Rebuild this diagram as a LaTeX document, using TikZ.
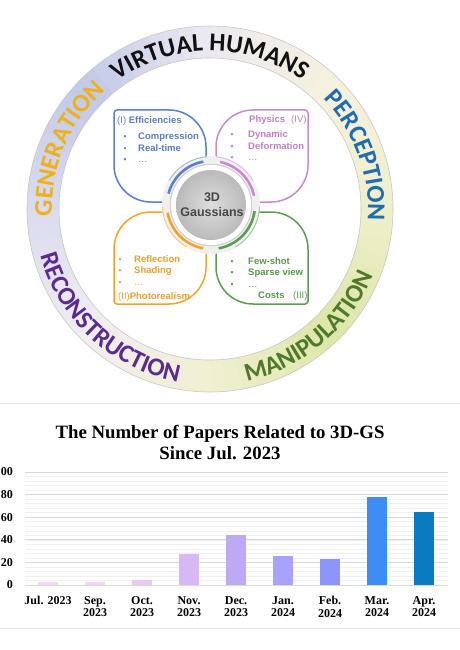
\documentclass[tikz,border=0pt]{standalone}
\usepackage{fontspec}
\setmainfont{Liberation Serif}
\newfontfamily\arialf{Liberation Sans}
\newfontfamily\ringf{Carlito}
\usetikzlibrary{decorations.text}
% ring colours
\definecolor{rA}{HTML}{EFEFCB}
\definecolor{rB}{HTML}{F6F1DE}
\definecolor{rC}{HTML}{ECEAF1}
\definecolor{rD}{HTML}{C2C8E7}
\definecolor{rE}{HTML}{D9DBEF}
\definecolor{rF}{HTML}{F2EDF2}
\definecolor{rG}{HTML}{F1F0D2}
\definecolor{rH}{HTML}{DCE6A8}
% word colours
\definecolor{wGen}{HTML}{EDB21A}
\definecolor{wVir}{HTML}{111111}
\definecolor{wPer}{HTML}{1F6CB0}
\definecolor{wMan}{HTML}{4E7A2A}
\definecolor{wRec}{HTML}{5A2C8E}
% petal colours
\definecolor{pI}{HTML}{5B7FC9}
\definecolor{pIV}{HTML}{C68CCB}
\definecolor{pII}{HTML}{F2A52C}
\definecolor{pIII}{HTML}{5E9C55}
\definecolor{pIt}{HTML}{5C7DC0}
\definecolor{pIVt}{HTML}{C47EC4}
\definecolor{pIIt}{HTML}{EFA02A}
\definecolor{pIIIt}{HTML}{5A9A4C}
% bar colours
\definecolor{b1}{HTML}{F3D9EE}
\definecolor{b2}{HTML}{F1D5F0}
\definecolor{b3}{HTML}{E7C9F3}
\definecolor{b4}{HTML}{D6B8F6}
\definecolor{b5}{HTML}{BEA9F6}
\definecolor{b6}{HTML}{A8A2F8}
\definecolor{b7}{HTML}{8E95FA}
\definecolor{b8}{HTML}{3E8DF5}
\definecolor{b9}{HTML}{0B7BC1}
\newcommand\RingWord[5]{%
  \path[decorate,decoration={text along path,text align=center,
    text={|\ringf\bfseries\fontsize{25.5}{26}\selectfont\color{#1}|#2}}]
    (#3:#5) arc[start angle=#3,end angle=#4,radius=#5];}
\begin{document}
\begin{tikzpicture}[x=1pt,y=1pt,
  ringline/.style={draw=black!22,line width=0.6pt},
  petal/.style={line width=1.5pt,line cap=round,line join=round},
  ptxt/.style={font=\arialf\fontsize{9.5}{11}\selectfont,anchor=base west,inner sep=0pt},
  pbold/.style={ptxt,font=\arialf\bfseries\fontsize{9.5}{11}\selectfont},
  bul/.style={font=\arialf\fontsize{8.5}{8.5}\selectfont,anchor=base,inner sep=0pt},
  ctxt/.style={font=\arialf\bfseries\fontsize{12.5}{14}\selectfont,text=black!72,anchor=base,inner sep=0pt},
  ylab/.style={font=\bfseries\fontsize{12}{12}\selectfont,anchor=east,inner sep=0pt},
  xlab/.style={font=\bfseries\fontsize{12}{12.5}\selectfont,anchor=north,inner sep=0pt,align=center},
  ttl/.style={font=\bfseries\fontsize{18.8}{20}\selectfont,anchor=base,inner sep=0pt},
  major/.style={draw=black!15,line width=0.8pt},
  minor/.style={draw=black!6,line width=0.5pt},
  sep/.style={draw=black!12,line width=0.9pt}]
\useasboundingbox (0,0) rectangle (460,-650);
\fill[white] (0,0) rectangle (460,-650);

% ---------------- ring ----------------
\begin{scope}[shift={(210,-209)}]
  \foreach \s/\ca/\cb in {0/rA/rB,45/rB/rC,90/rC/rD,135/rD/rE,180/rE/rF,225/rF/rG,270/rG/rH,315/rH/rA}{
    \foreach \k in {0,...,8}{
      \pgfmathsetmacro\aa{\s+\k*5}
      \pgfmathsetmacro\ab{\aa+5.6}
      \pgfmathtruncatemacro\p{100-(\k+0.5)*100/9}
      \fill[\ca!\p!\cb] (\aa:183) arc[start angle=\aa,end angle=\ab,radius=183]
        -- (\ab:151) arc[start angle=\ab,end angle=\aa,radius=151] -- cycle;
    }
  }
  \draw[ringline] (0,0) circle (183);
  \draw[ringline] (0,0) circle (151);
  \RingWord{wVir}{VIRTUAL HUMANS}{140}{40}{158}
  \RingWord{wPer}{PERCEPTION}{75}{-35}{158}
  \RingWord{wGen}{GENERATION}{212}{102}{158}
  \RingWord{wMan}{MANIPULATION}{-105}{5}{176}
  \RingWord{wRec}{RECONSTRUCTION}{170}{285}{176}
\end{scope}

% ---------------- petals ----------------
\foreach \sx/\sy/\c in {-1/1/pI,1/1/pIV,-1/-1/pII,1/-1/pIII}{
  \begin{scope}[shift={(211,-207)},xscale=\sx,yscale=\sy]
    \draw[petal,\c] (5,45) -- (5,60) arc[start angle=180,end angle=90,radius=37]
      -- (94,97) arc[start angle=90,end angle=0,radius=3]
      -- (97,42) arc[start angle=0,end angle=-90,radius=37] -- (45,5);
  \end{scope}
}

% ---------------- centre ----------------
\begin{scope}[shift={(211,-205)}]
  \draw[line width=7pt,black!6] (0,0) circle (45.5);
  \draw[line width=2.6pt,pI] (100:44) arc[start angle=100,end angle=165,radius=44];
  \draw[line width=1pt,pI!55] (95:48.5) arc[start angle=95,end angle=150,radius=48.5];
  \draw[line width=2.6pt,pIV] (78:44) arc[start angle=78,end angle=12,radius=44];
  \draw[line width=1pt,pIV!55] (84:48.5) arc[start angle=84,end angle=30,radius=48.5];
  \draw[line width=2.6pt,pIII] (-8:44) arc[start angle=-8,end angle=-80,radius=44];
  \draw[line width=1pt,pIII!55] (-2:48.5) arc[start angle=-2,end angle=-60,radius=48.5];
  \draw[line width=2.6pt,pII] (190:44) arc[start angle=190,end angle=260,radius=44];
  \draw[line width=1pt,pII!55] (182:48.5) arc[start angle=182,end angle=240,radius=48.5];
  \fill[black!18] (0,0) circle (41.5);
  \fill[white] (0,0) circle (40);
  \shade[inner color=black!13,outer color=black!27] (0,0) circle (35);
\end{scope}
\node[ctxt] (c3d) at (212,-201.5) {3D};
\node[ctxt] (cgs) at (212,-216.5) {Gaussians};

% ---------------- petal texts ----------------
% I
\node[ptxt,text=pIt] (h1) at (117,-123.5) {(I) \textbf{Efficiencies}};
\node[bul,text=pIt] (u11) at (125,-139.5) {•};
\node[bul,text=pIt] (u12) at (125,-151.5) {•};
\node[bul,text=pIt] (u13) at (125,-162.5) {•};
\node[pbold,text=pIt] (i11) at (138,-139.5) {Compression};
\node[pbold,text=pIt] (i12) at (138,-151.5) {Real-time};
\node[ptxt,text=pIt] (i13) at (138,-162.5) {…};
% IV
\node[pbold,text=pIVt] (h4) at (249,-122.5) {Physics};
\node[ptxt,text=pIVt] (h4b) at (291,-122.5) {(IV)};
\node[bul,text=pIVt] (u41) at (232,-137.5) {•};
\node[bul,text=pIVt] (u42) at (232,-149) {•};
\node[bul,text=pIVt] (u43) at (232,-160.5) {•};
\node[pbold,text=pIVt] (i41) at (248,-137.5) {Dynamic};
\node[pbold,text=pIVt] (i42) at (248,-149) {Deformation};
\node[ptxt,text=pIVt] (i43) at (248,-160.5) {…};
% II
\node[bul,text=pIIt] (u21) at (120,-262.5) {•};
\node[bul,text=pIIt] (u22) at (120,-273.5) {•};
\node[bul,text=pIIt] (u23) at (120,-285) {•};
\node[pbold,text=pIIt] (i21) at (134,-262.5) {Reflection};
\node[pbold,text=pIIt] (i22) at (134,-273.5) {Shading};
\node[ptxt,text=pIIt] (i23) at (134,-285) {…};
\node[ptxt,text=pIIt] (h2) at (118,-299.5) {(II)\textbf{Photorealism}};
% III
\node[bul,text=pIIIt] (u31) at (232,-264.5) {•};
\node[bul,text=pIIIt] (u32) at (232,-275.5) {•};
\node[bul,text=pIIIt] (u33) at (232,-287) {•};
\node[pbold,text=pIIIt] (i31) at (248,-264.5) {Few-shot};
\node[pbold,text=pIIIt] (i32) at (248,-275.5) {Sparse view};
\node[ptxt,text=pIIIt] (i33) at (248,-287) {…};
\node[pbold,text=pIIIt] (h3) at (258,-298.5) {Costs};
\node[ptxt,text=pIIIt] (h3b) at (293,-298.5) {(III)};

% ---------------- chart ----------------
\draw[sep] (0,-403) -- (460,-403);
\draw[sep] (0,-628) -- (460,-628);
\node[ttl] (title1) at (220,-438) {The Number of Papers Related to 3D-GS};
\node[ttl] (title2) at (220,-459) {Since Jul. 2023};
\foreach \v in {4,8,...,96}{
  \draw[minor] (25,{-585+\v*1.13}) -- (448,{-585+\v*1.13});
}
\foreach \v in {0,20,...,100}{
  \draw[major] (25,{-585+\v*1.13}) -- (448,{-585+\v*1.13});
  \node[ylab] (yl\v) at (13,{-585+\v*1.13}) {\v};
}
\foreach \x/\v/\c in {48/3/b1,95/3/b2,142/4/b3,189/27/b4,236/44/b5,283/26/b6,330/23/b7,377/78/b8,424/65/b9}{
  \fill[\c] ({\x-10},-585) rectangle ({\x+10},{-585+\v*1.13});
}
\foreach \x/\t [count=\n] in {48/{Jul. 2023},95/{Sep.\\2023},142/{Oct.\\2023},189/{Nov.\\2023},236/{Dec.\\2023},283/{Jan.\\2024},330/{Feb.\\2024},377/{Mar.\\2024},424/{Apr.\\2024}}{
  \node[xlab] (xl\n) at (\x,-596) {\t};
}
\end{tikzpicture}
\end{document}
